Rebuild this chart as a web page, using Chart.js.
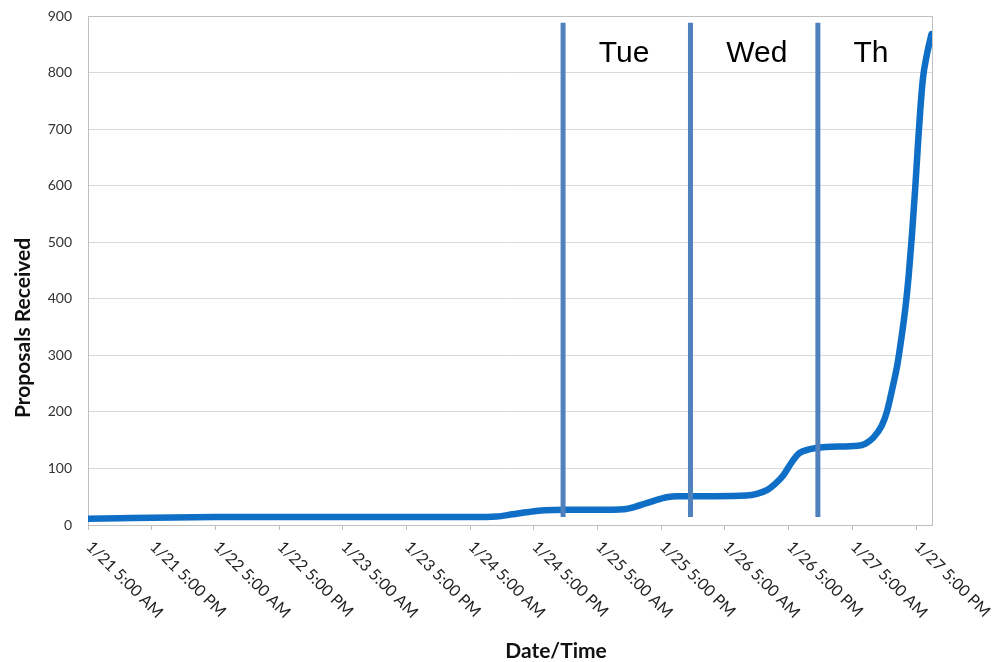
<!DOCTYPE html>
<html>
<head>
<meta charset="utf-8">
<script src="https://cdn.jsdelivr.net/npm/chart.js@4"></script>
<style>
  body { margin: 0; background: #fff; }
  #contenedor { width: 994px; height: 662px; }
</style>
</head>
<body>
<div id="contenedor"><canvas id="grafico"></canvas></div>
<script>
// horas desde 1/21 5:00 AM
const horas = [0, 6, 12, 24, 36, 48, 60, 72, 77, 80, 83, 86, 90, 96, 101, 103, 105, 107, 109, 111,
    118, 124, 126, 128, 129.5, 131, 132.5, 134, 136, 139, 145, 146.5, 148, 149.5, 150.5, 151.5,
    152.5, 153.3, 154, 154.6, 155.2, 155.8, 156.3, 156.8, 157.3, 158, 158.9];
const propuestas = [11, 12, 13, 14, 14, 14, 14, 14, 15, 19, 23, 26, 27, 27, 28, 32, 38, 44, 49, 51,
    51, 52, 55, 62, 73, 88, 110, 127, 134, 138, 140, 144, 155, 175, 200, 240,
    285, 335, 385, 440, 510, 590, 665, 735, 790, 830, 868];

const tickHoras = [0, 12, 24, 36, 48, 60, 72, 84, 96, 108, 120, 132, 144, 156];
const tickEtiquetas = ["1/21 5:00 AM", "1/21 5:00 PM", "1/22 5:00 AM", "1/22 5:00 PM",
    "1/23 5:00 AM", "1/23 5:00 PM", "1/24 5:00 AM", "1/24 5:00 PM", "1/25 5:00 AM",
    "1/25 5:00 PM", "1/26 5:00 AM", "1/26 5:00 PM", "1/27 5:00 AM", "1/27 5:00 PM"];

// lineas verticales que separan los dias
const separadores = [89.5, 113.5, 137.5];
const separadorDesde = 14;
const separadorHasta = 888;

const dias = ["Tue", "Wed", "Th"];
const diasHoras = [101, 126, 147.5];
const diasValor = 834;

const datasets = separadores.map(h => ({
    data: [{ x: h, y: separadorDesde }, { x: h, y: separadorHasta }],
    borderColor: "#4F81BD",
    borderWidth: 5,
    pointRadius: 0,
    borderCapStyle: "butt"
}));

datasets.push({
    data: horas.map((h, i) => ({ x: h, y: propuestas[i] })),
    borderColor: "#0F6FC6",
    borderWidth: 6.5,
    pointRadius: 0,
    cubicInterpolationMode: "monotone",
    borderCapStyle: "round",
    borderJoinStyle: "round"
});

const etiquetasPlugin = {
    id: "etiquetas",
    beforeDatasetsDraw(chart) {
        const ctx = chart.ctx;
        const area = chart.chartArea;
        ctx.save();
        ctx.strokeStyle = "#bfbfbf";
        ctx.lineWidth = 1;
        ctx.strokeRect(area.left + 0.5, area.top + 0.5, area.width, area.height);
        ctx.restore();
    },
    afterDraw(chart) {
        const ctx = chart.ctx;
        const x = chart.scales.x;
        const y = chart.scales.y;
        const area = chart.chartArea;
        ctx.save();

        // etiquetas del eje x giradas hacia abajo
        ctx.font = "16px Lato";
        ctx.fillStyle = "#222";
        ctx.textAlign = "left";
        ctx.textBaseline = "middle";
        tickHoras.forEach((h, i) => {
            const px = x.getPixelForValue(h);
            ctx.save();
            ctx.translate(px + 1, area.bottom + 19);
            ctx.rotate(Math.PI / 4);
            ctx.fillText(tickEtiquetas[i], 0, 0);
            ctx.restore();
        });

        // nombres de los dias
        ctx.font = "30px 'Liberation Sans'";
        ctx.fillStyle = "#000";
        ctx.textAlign = "center";
        dias.forEach((d, i) => {
            ctx.fillText(d, x.getPixelForValue(diasHoras[i]), y.getPixelForValue(diasValor));
        });

        // titulos de los ejes
        ctx.font = "bold 21px Lato";
        ctx.fillStyle = "#111";
        ctx.fillText("Date/Time", 556, 651);
        ctx.save();
        ctx.translate(23, 328);
        ctx.rotate(-Math.PI / 2);
        ctx.fillText("Proposals Received", 0, 0);
        ctx.restore();

        ctx.restore();
    }
};

new Chart(document.getElementById("grafico"), {
    type: "line",
    data: { datasets: datasets },
    options: {
        responsive: true,
        maintainAspectRatio: false,
        animation: false,
        layout: { padding: { top: 16, right: 62, left: 0, bottom: 0 } },
        plugins: { legend: { display: false }, tooltip: { enabled: false } },
        scales: {
            x: {
                type: "linear",
                min: 0,
                max: 159,
                afterBuildTicks: s => { s.ticks = tickHoras.map(v => ({ value: v })); },
                afterFit: s => { s.height = 137; },
                ticks: { display: false },
                grid: { drawOnChartArea: false, drawTicks: true, tickLength: 5, color: "#bfbfbf" },
                border: { color: "#bfbfbf" }
            },
            y: {
                min: 0,
                max: 900,
                afterFit: s => { s.width = 88; s.paddingTop = 0; s.paddingBottom = 0; },
                ticks: { stepSize: 100, padding: 16, color: "#333", font: { family: "Lato", size: 14 } },
                grid: { color: "#d9d9d9", drawTicks: false },
                border: { color: "#bfbfbf" }
            }
        }
    },
    plugins: [etiquetasPlugin]
});
</script>
</body>
</html>
